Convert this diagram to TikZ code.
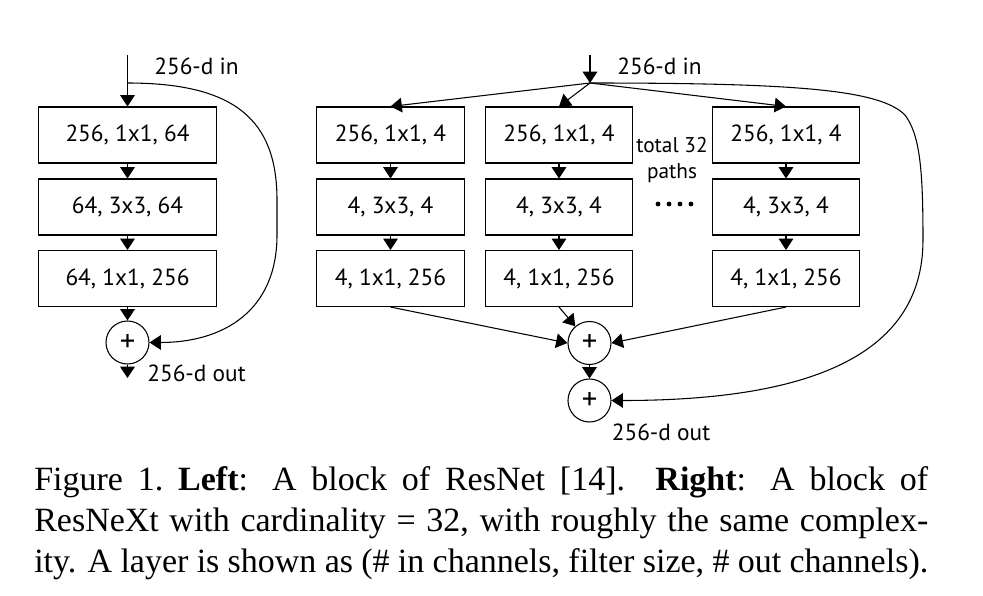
\documentclass[tikz,border=0pt]{standalone}
\usepackage{fontspec}
\setmainfont{Liberation Serif}
\newfontfamily\diagfont{PT Sans}
\usetikzlibrary{arrows.meta}

\begin{document}
\begin{tikzpicture}[x=0.75pt, y=-0.75pt,
		layer/.style={draw, thick, minimum height=42pt, inner sep=0pt, font=\diagfont\fontsize{17.5}{20}\selectfont},
		wide/.style={minimum width=133pt},
		slim/.style={minimum width=110.5pt},
		sum/.style={draw, thick, circle, minimum size=32.25pt, inner sep=0pt, font=\diagfont\fontsize{23}{25}\selectfont},
		lbl/.style={inner sep=0pt, font=\diagfont\fontsize{17.5}{20}\selectfont},
		arr/.style={thick, -{Triangle[length=8.5pt, width=11pt]}}]
		\useasboundingbox (0,0) rectangle (983,596);

		% left: ResNet block
		\coordinate (lin) at (127.5,55);
		\coordinate (lsplit) at (127.5,83);
		\node[layer, wide] (l1) at (127.5,135) {256, 1x1, 64};
		\node[layer, wide] (l2) at (127.5,207) {64, 3x3, 64};
		\node[layer, wide] (l3) at (127.5,278.5) {64, 1x1, 256};
		\node[sum] (lsum) at (127.5,342.5) {+};
		\coordinate (lout) at (127.5,378);
		\node[lbl] (lintxt) at (196.5,66) {256-d in};
		\node[lbl] (louttxt) at (196.5,373) {256-d out};

		\draw[arr] (lin) -- (l1);
		\draw[arr] (l1) -- (l2);
		\draw[arr] (l2) -- (l3);
		\draw[arr] (l3) -- (lsum);
		\draw[arr] (lsum) -- (lout);
		\draw[arr] (lsplit) .. controls (235,83) and (277,120) .. (277,200) -- (277,235) .. controls (277,312) and (222,342.5) .. (lsum.east);

		% right: ResNeXt block
		\coordinate (rin) at (590,55);
		\coordinate (rsplit) at (590,83);
		\node[layer, slim] (r11) at (390.5,135) {256, 1x1, 4};
		\node[layer, slim] (r12) at (390.5,207) {4, 3x3, 4};
		\node[layer, slim] (r13) at (390.5,278.5) {4, 1x1, 256};
		\node[layer, slim] (r21) at (559,135) {256, 1x1, 4};
		\node[layer, slim] (r22) at (559,207) {4, 3x3, 4};
		\node[layer, slim] (r23) at (559,278.5) {4, 1x1, 256};
		\node[layer, slim] (r31) at (786,135) {256, 1x1, 4};
		\node[layer, slim] (r32) at (786,207) {4, 3x3, 4};
		\node[layer, slim] (r33) at (786,278.5) {4, 1x1, 256};
		\node[sum] (rsum1) at (589.5,343) {+};
		\node[sum] (rsum2) at (589.5,400.5) {+};
		\node[lbl] (rintxt) at (659.5,66) {256-d in};
		\node[lbl] (routtxt) at (661,432) {256-d out};
		\node[lbl, align=center, font=\diagfont\fontsize{16}{19}\selectfont] (paths) at (672,160) {total 32\\paths};
		\foreach \i in {0,1,2,3}
			\fill (658+\i*11,204) circle (2.4);

		\draw[arr] (rin) -- (rsplit);
		\foreach \c in {r11,r21,r31}
			\draw[arr] (rsplit) -- (\c.north);
		\foreach \c in {1,2,3} {
			\draw[arr] (r\c1) -- (r\c2);
			\draw[arr] (r\c2) -- (r\c3);
		}
		\draw[arr] (r13.south) -- (rsum1.west);
		\draw[arr] (r23.south) -- (rsum1);
		\draw[arr] (r33.south) -- (rsum1.east);
		\draw[arr] (rsum1) -- (rsum2);
		\draw[arr] (rsplit) .. controls (800,83) and (880,90) .. (905,115) .. controls (920,135) and (923,170) .. (923,240) .. controls (923,360) and (800,400.5) .. (rsum2.east);

		% caption
		\node[anchor=base west, inner sep=0pt, text width=670.5pt, align=justify, font=\fontsize{25.5}{30.75}\selectfont] (cap) at (34,490)
			{Figure 1.\ \textbf{Left}:  A block of ResNet [14].  \textbf{Right}:  A block of\linebreak ResNeXt with cardinality = 32, with roughly the same complex-\linebreak ity. A layer is shown as (\# in channels, filter size, \# out channels).};
	\end{tikzpicture}
\end{document}
